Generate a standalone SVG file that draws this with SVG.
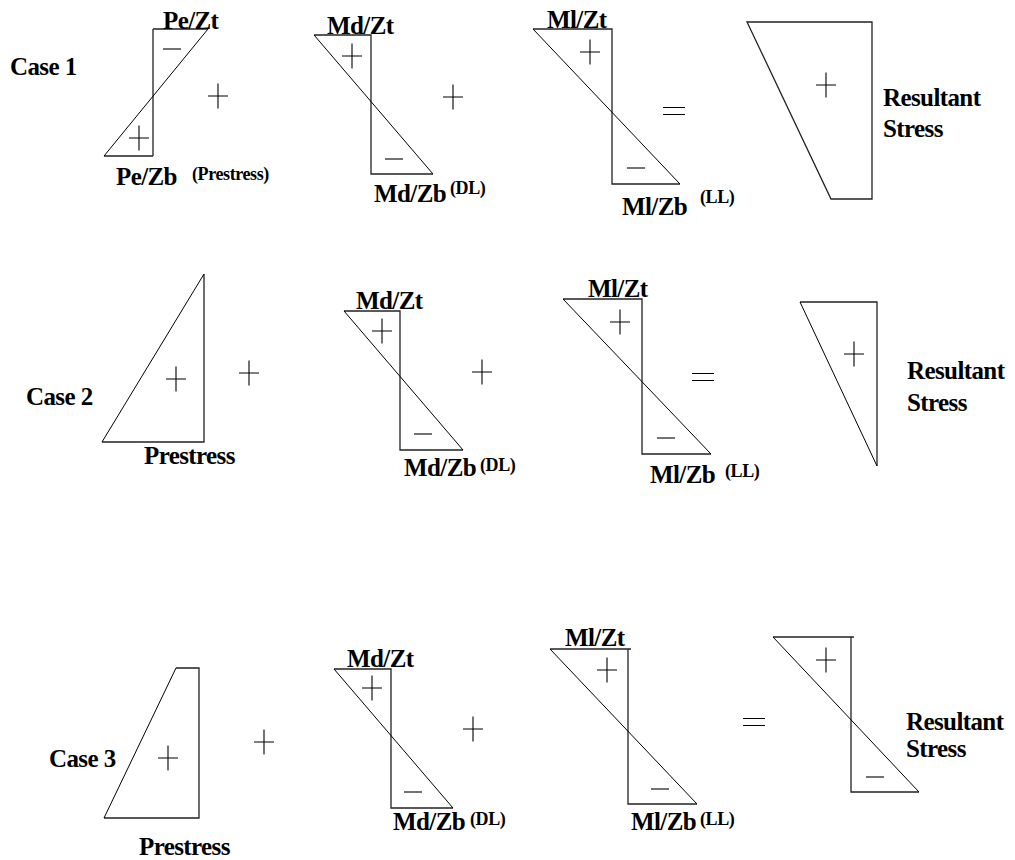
<svg xmlns="http://www.w3.org/2000/svg" xmlns:xlink="http://www.w3.org/1999/xlink" width="1015" height="860" viewBox="0 0 1015 860">
<style>
.ln{fill:none;stroke:#000;stroke-width:1}
.ol{fill:none;stroke:#222;stroke-width:1.3}
.sg{fill:none;stroke:#000;stroke-width:1.1}
text{font-family:"Liberation Serif","Times New Roman",serif;font-weight:bold;fill:#000}
.lb{font-size:25px;letter-spacing:-0.6px}
.sm{font-size:18px;letter-spacing:-0.4px}
</style>
<defs>
<path id="plus" d="M-10 0H10M0-12.5V12.5"/>
<path id="minus" d="M-9 0H9"/>
<path id="eq" d="M-11-3.5H11M-11 3.5H11"/>
</defs>
<rect width="1015" height="860" fill="#fff"/>

<!-- Case 1 -->
<g id="case1-label"><text class="lb" x="10" y="75">Case 1</text></g>
<g id="case1-prestress">
<path class="ol" d="M153 29H208M153 29V156M104 156H153"/>
<path class="ln" d="M208 29L104 156"/>
<use class="sg" href="#minus" x="172" y="49"/>
<use class="sg" href="#plus" x="139" y="138"/>
<text class="lb" x="163" y="29">Pe/Zt</text>
<text class="lb" x="116" y="185">Pe/Zb</text>
<text class="sm" x="192" y="180">(Prestress)</text>
</g>
<g id="case1-dl">
<path class="ol" d="M314 35H371V174H433"/>
<path class="ln" d="M314 35L433 174"/>
<use class="sg" href="#plus" x="352" y="56"/>
<use class="sg" href="#minus" x="394" y="159"/>
<text class="lb" x="327" y="34">Md/Zt</text>
<text class="lb" x="374" y="202">Md/Zb</text>
<text class="sm" x="450" y="194">(DL)</text>
</g>
<g id="case1-ll">
<path class="ol" d="M533 29H612V184H680"/>
<path class="ln" d="M533 29L680 184"/>
<use class="sg" href="#plus" x="590" y="52"/>
<use class="sg" href="#minus" x="636" y="168"/>
<text class="lb" x="547" y="28">Ml/Zt</text>
<text class="lb" x="622" y="215">Ml/Zb</text>
<text class="sm" x="700" y="203">(LL)</text>
</g>
<g id="case1-resultant">
<path class="ol" d="M747 22H872V199H831Z"/>
<use class="sg" href="#plus" x="826" y="85"/>
<text class="lb" x="883" y="106">Resultant</text>
<text class="lb" x="883" y="137">Stress</text>
</g>

<!-- Case 2 -->
<g id="case2-label"><text class="lb" x="26" y="405">Case 2</text></g>
<g id="case2-prestress">
<path class="ol" d="M204 274V442H102"/>
<path class="ln" d="M102 442L204 274"/>
<use class="sg" href="#plus" x="176" y="379"/>
<text class="lb" x="144" y="464">Prestress</text>
</g>
<g id="case2-dl">
<path class="ol" d="M344 311H400V450H463"/>
<path class="ln" d="M344 311L463 450"/>
<use class="sg" href="#plus" x="382" y="331"/>
<use class="sg" href="#minus" x="423" y="434"/>
<text class="lb" x="404" y="476">Md/Zb</text>
<text class="lb" x="356" y="309">Md/Zt</text>
<text class="sm" x="480" y="471">(DL)</text>
</g>
<g id="case2-ll">
<path class="ol" d="M563 299H642V454H711"/>
<path class="ln" d="M563 299L711 454"/>
<use class="sg" href="#plus" x="620" y="322"/>
<use class="sg" href="#minus" x="666" y="438"/>
<text class="lb" x="588" y="297">Ml/Zt</text>
<text class="lb" x="650" y="483">Ml/Zb</text>
<text class="sm" x="725" y="477">(LL)</text>
</g>
<g id="case2-resultant">
<path class="ol" d="M800 302H877V466"/>
<path class="ln" d="M800 302L877 466"/>
<use class="sg" href="#plus" x="854" y="354"/>
<text class="lb" x="907" y="379">Resultant</text>
<text class="lb" x="907" y="411">Stress</text>
</g>

<!-- Case 3 -->
<g id="case3-label"><text class="lb" x="49" y="767">Case 3</text></g>
<g id="case3-prestress">
<path class="ol" d="M176 668H199V818H104"/>
<path class="ln" d="M104 818L176 668"/>
<use class="sg" href="#plus" x="168" y="758"/>
<text class="lb" x="139" y="855">Prestress</text>
</g>
<g id="case3-dl">
<path class="ol" d="M334 669H391V808H453"/>
<path class="ln" d="M334 669L453 808"/>
<use class="sg" href="#plus" x="372" y="688"/>
<use class="sg" href="#minus" x="413" y="792"/>
<text class="lb" x="347" y="667">Md/Zt</text>
<text class="lb" x="393" y="830">Md/Zb</text>
<text class="sm" x="470" y="825">(DL)</text>
</g>
<g id="case3-ll">
<path class="ol" d="M550 649H631M628 649V804H697"/>
<path class="ln" d="M550 649L697 804"/>
<use class="sg" href="#plus" x="607" y="670"/>
<use class="sg" href="#minus" x="660" y="789"/>
<text class="lb" x="565" y="646">Ml/Zt</text>
<text class="lb" x="631" y="830">Ml/Zb</text>
<text class="sm" x="700" y="825">(LL)</text>
</g>
<g id="case3-resultant">
<path class="ol" d="M773 637H854M851 637V792H919"/>
<path class="ln" d="M773 637L919 792"/>
<use class="sg" href="#plus" x="826" y="660"/>
<use class="sg" href="#minus" x="875" y="777"/>
<text class="lb" x="906" y="730">Resultant</text>
<text class="lb" x="906" y="757">Stress</text>
</g>

<!-- operators -->
<g id="connectors">
<use class="sg" href="#plus" x="218" y="96"/>
<use class="sg" href="#plus" x="453" y="97"/>
<use class="sg" href="#eq" x="674" y="111"/>
<use class="sg" href="#plus" x="249" y="373"/>
<use class="sg" href="#plus" x="482" y="372"/>
<use class="sg" href="#eq" x="703" y="377"/>
<use class="sg" href="#plus" x="264" y="742"/>
<use class="sg" href="#plus" x="473" y="729"/>
<use class="sg" href="#eq" x="754" y="722"/>
</g>
</svg>
